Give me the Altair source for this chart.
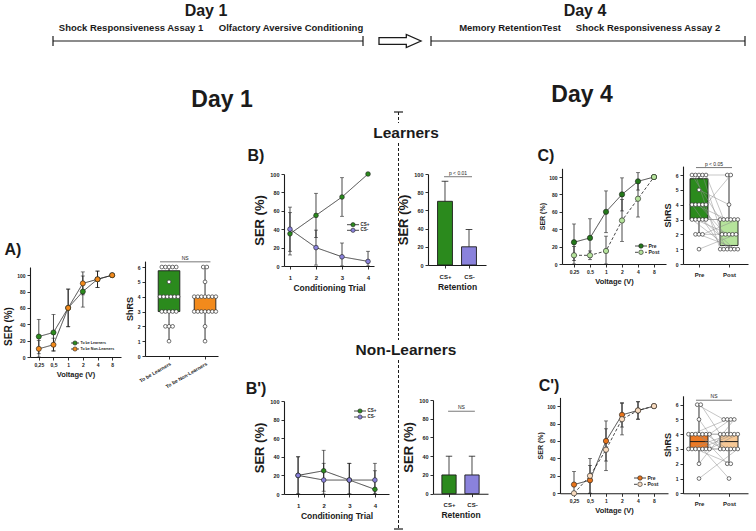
import json
import altair as alt
import pandas as pd

W, H = 756, 531
SANS = "Liberation Sans, Arial, Helvetica, sans-serif"
NARROW = "Liberation Sans Narrow, Arial Narrow, Liberation Sans, Arial, sans-serif"
INK = "#1b1b1b"

# ---------------- data ----------------
volt_comma = ["0,25", "0,5", "1", "2", "4", "8"]
volt_dot = ["0.25", "0.5", "1", "2", "4", "8"]
trials = ["1", "2", "3", "4"]
cs_groups = ["CS+", "CS-"]
phase_groups = ["Pre", "Post"]
future_groups = ["To be Learners", "To be Non-Learners"]

# A) day-1 shock responsiveness (SER %, mean and error)
a_learn_ser = [25, 30, 60, 80, 95, 100]
a_learn_err = [21, 22, 23, 19, 10, 0]
a_non_ser = [10, 15, 60, 90, 95, 100]
a_non_err = [10, 8, 23, 14, 10, 0]
# A) ShRS score of each fly
a_learn_shrs = [6, 6, 6, 6, 6, 5, 4, 4, 4, 4, 4, 4, 3, 3, 3, 3, 3, 2, 2, 2, 1]
a_non_shrs = [6, 6, 5, 4, 4, 4, 4, 4, 4, 4, 3, 3, 3, 3, 3, 3, 3, 2, 1]
# box summaries: lower whisker, Q1, median, Q3, upper whisker
a_learn_box = [1, 3, 4, 5.75, 6]
a_non_box = [1, 3, 4, 4, 6]

# B) learners: acquisition and retention
b_csp = [35, 55, 75, 100]
b_csp_err = [23, 24, 21, 0]
b_csm = [40, 20, 10, 5]
b_csm_err = [24, 19, 15, 11]
b_ret = [70, 20]
b_ret_err = [22, 19]

# B') non-learners: acquisition and retention
bn_csp = [20, 25, 15, 5]
bn_csp_err = [20, 22, 18, 20]
bn_csm = [20, 15, 15, 15]
bn_csm_err = [20, 18, 18, 18]
bn_ret = [20, 20]
bn_ret_err = [20, 20]

# C) learners: shock responsiveness before / after
c_pre_ser = [25, 30, 60, 80, 95, 100]
c_pre_err = [21, 22, 24, 19, 10, 0]
c_post_ser = [10, 10, 15, 50, 75, 100]
c_post_err = [10, 5, 17, 24, 21, 0]
c_pre_shrs = [6, 6, 6, 6, 6, 5, 4, 4, 4, 4, 4, 3, 3, 3, 3, 3, 2, 2, 2, 1]
c_post_shrs = [3, 1, 6, 2, 3, 4, 1, 3, 2, 1, 6, 1, 2, 3, 1, 3, 2, 1, 3, 2]
c_pre_box = [2, 3, 4, 5.75, 6]
c_post_box = [1, 1.25, 2, 3, 6]

# C') non-learners: shock responsiveness before / after
cn_pre_ser = [10, 15, 60, 90, 95, 100]
cn_pre_err = [15, 17, 23, 14, 10, 0]
cn_post_ser = [0, 20, 50, 85, 95, 100]
cn_post_err = [0, 20, 24, 18, 10, 0]
cn_pre_shrs = [6, 6, 5, 4, 4, 4, 4, 4, 4, 4, 3, 3, 3, 3, 3, 3, 3, 2, 1]
cn_post_shrs = [5, 4, 3, 4, 5, 3, 2, 4, 3, 5, 4, 3, 2, 4, 1, 3, 4, 5, 3]
cn_pre_box = [2, 3, 3.5, 4, 6]
cn_post_box = [2, 3, 3.5, 4, 5]

# ---------------- colours ----------------
GREEN = "#2b8a1d"
ORANGE = "#f28a1c"
PURPLE = "#8a82dc"
DARK_GREEN = "#23781a"
LIGHT_GREEN = "#b5e39b"
DEEP_ORANGE = "#e8741a"
PEACH = "#f9dcc0"
BOX_ORANGE = "#ec7a26"
BOX_PEACH = "#f6c896"

ONE = pd.DataFrame({"_": [0]})


def axis(orient, at, **kw):
    offset = -(H - at) if orient == "bottom" else -at
    base = dict(orient=orient, offset=offset, grid=False, domainColor=INK, domainWidth=1.1,
                tickColor=INK, tickWidth=0.9, tickSize=3, labelFont=SANS, labelColor=INK,
                labelFontWeight="bold", titleFont=SANS, titleColor=INK, titleFontWeight="bold",
                labelPadding=2, titlePadding=3, labelOverlap=False)
    if orient == "bottom":
        base["labelAngle"] = 0
    base.update(kw)
    return alt.Axis(**base)


def key(names, fills, dashes, x_dot, rows, size, msize, half=6):
    """Small in-plot key: a line stub, a marker and the series name per row."""
    df = pd.DataFrame({"series": names})
    Y = alt.Y("series:N", scale=alt.Scale(type="point", domain=names, range=rows, padding=0),
              axis=None)
    stub = alt.Chart(df).mark_rule(color=INK, strokeWidth=0.8).encode(
        x=alt.value(x_dot - half), x2=alt.value(x_dot + half), y=Y,
        strokeDash=alt.StrokeDash("series:N", scale=alt.Scale(domain=names, range=dashes),
                                  legend=None))
    dot = alt.Chart(df).mark_point(filled=True, size=msize, stroke=INK, strokeWidth=0.6,
                                   opacity=1).encode(
        x=alt.value(x_dot), y=Y,
        color=alt.Color("series:N", scale=alt.Scale(domain=names, range=fills), legend=None))
    lab = alt.Chart(df).mark_text(align="left", baseline="middle", font=SANS, fontSize=size,
                                  fontWeight="bold", color=INK).encode(
        x=alt.value(x_dot + half + 1.5), y=Y, text="series:N")
    return alt.layer(stub, dot, lab).resolve_scale(y="shared")


def line_panel(cats, names, means, errs, fills, dashes, xr, pad, yr, ydom, xax, yax, msize):
    rows = [dict(cat=c, series=n, val=v, err=e)
            for n, m, es in zip(names, means, errs)
            for c, v, e in zip(cats, m, es)]
    base = alt.Chart(pd.DataFrame(rows)).transform_calculate(
        lo="max(0, datum.val - datum.err)", hi="datum.val + datum.err")
    xs = alt.Scale(type="point", domain=cats, range=xr, padding=pad)
    ys = alt.Scale(domain=ydom, range=yr, nice=False, zero=False)
    X = alt.X("cat:N", scale=xs, axis=xax, sort=cats)

    def Y(f):
        return alt.Y(f"{f}:Q", scale=ys, axis=yax)

    with_err = base.transform_filter("datum.err > 0")
    bars = with_err.mark_rule(color=INK, strokeWidth=0.8).encode(x=X, y=Y("lo"), y2="hi:Q")
    caps = with_err.transform_fold(["lo", "hi"], as_=["end", "yv"]).mark_tick(
        color=INK, thickness=0.8, size=4).encode(x=X, y=Y("yv"))
    line = base.mark_line(color=INK, strokeWidth=0.8).encode(
        x=X, y=Y("val"),
        strokeDash=alt.StrokeDash("series:N", scale=alt.Scale(domain=names, range=dashes), legend=None))
    pts = base.mark_point(filled=True, size=msize, stroke=INK, strokeWidth=0.6, opacity=1).encode(
        x=X, y=Y("val"),
        color=alt.Color("series:N", scale=alt.Scale(domain=names, range=fills), legend=None))
    return alt.layer(bars, caps, line, pts)


def sig_layers(sig, X, Y):
    sdf = pd.DataFrame([dict(a=sig["a"], b=sig["b"], y=sig["y"], mid=(sig["a"] + sig["b"]) / 2,
                             text=sig["text"])])
    rule = alt.Chart(sdf).mark_rule(color="#555", strokeWidth=0.8).encode(x=X("a"), x2="b:Q", y=Y("y"))
    txt = alt.Chart(sdf).mark_text(font=SANS, fontSize=5, dy=-4, color=INK).encode(
        x=X("mid"), y=Y("y"), text="text:N")
    return [rule, txt]


def box_panel(groups, samples, summaries, fills, xdom, xr, ydom, yr, xax, yax, hw, step, paired, sig):
    pts = pd.DataFrame([dict(subject=i, pos=g, value=v)
                        for g, vals in enumerate(samples) for i, v in enumerate(vals)])
    stats = pd.DataFrame([dict(pos=g, grp=groups[g], lo=s[0], q1=s[1], med=s[2], q3=s[3], hi=s[4])
                          for g, s in enumerate(summaries)])
    xs = alt.Scale(domain=xdom, range=xr, nice=False, zero=False)
    ys = alt.Scale(domain=ydom, range=yr, nice=False, zero=False)

    def X(f):
        return alt.X(f"{f}:Q", scale=xs, axis=xax)

    def Y(f):
        return alt.Y(f"{f}:Q", scale=ys, axis=yax)

    sb = alt.Chart(stats).transform_calculate(x0=f"datum.pos - {hw}", x1=f"datum.pos + {hw}")
    whisk = sb.mark_rule(color=INK, strokeWidth=0.9).encode(x=X("pos"), y=Y("lo"), y2="hi:Q")
    box = sb.mark_rect(stroke=INK, strokeWidth=0.9).encode(
        x=X("x0"), x2="x1:Q", y=Y("q1"), y2="q3:Q",
        color=alt.Color("grp:N", scale=alt.Scale(domain=groups, range=fills), legend=None))
    med = sb.mark_rule(color=INK, strokeWidth=1).encode(x=X("x0"), x2="x1:Q", y=Y("med"))
    pb = (alt.Chart(pts)
          .transform_window(k="row_number()", groupby=["pos", "value"], sort=[alt.SortField("subject")])
          .transform_joinaggregate(n="count()", groupby=["pos", "value"])
          .transform_calculate(xd=f"datum.pos + (datum.k - (datum.n + 1) / 2) * {step}"))
    layers = [whisk, box, med]
    if paired:
        layers.append(pb.mark_line(color="#8c8c8c", strokeWidth=0.5).encode(
            x=X("xd"), y=Y("value"), detail="subject:N", order="pos:Q"))
    layers.append(pb.mark_point(filled=True, fill="white", stroke="#333", strokeWidth=0.7,
                                size=14, opacity=1).encode(x=X("xd"), y=Y("value")))
    layers += sig_layers(sig, X, Y)
    return alt.layer(*layers)


def bar_panel(groups, means, errs, fills, xdom, xr, ydom, yr, xax, yax, hw, sig):
    df = pd.DataFrame([dict(pos=i, grp=g, val=m, err=e)
                       for i, (g, m, e) in enumerate(zip(groups, means, errs))])
    xs = alt.Scale(domain=xdom, range=xr, nice=False, zero=False)
    ys = alt.Scale(domain=ydom, range=yr, nice=False, zero=False)

    def X(f):
        return alt.X(f"{f}:Q", scale=xs, axis=xax)

    def Y(f):
        return alt.Y(f"{f}:Q", scale=ys, axis=yax)

    base = alt.Chart(df).transform_calculate(
        x0=f"datum.pos - {hw}", x1=f"datum.pos + {hw}",
        c0=f"datum.pos - {hw * 0.45}", c1=f"datum.pos + {hw * 0.45}",
        hi="datum.val + datum.err", floor="0")
    err = base.mark_rule(color=INK, strokeWidth=0.8).encode(x=X("pos"), y=Y("val"), y2="hi:Q")
    cap = base.mark_rule(color=INK, strokeWidth=0.8).encode(x=X("c0"), x2="c1:Q", y=Y("hi"))
    bar = base.mark_rect(stroke=INK, strokeWidth=0.9).encode(
        x=X("x0"), x2="x1:Q", y=Y("floor"), y2="val:Q",
        color=alt.Color("grp:N", scale=alt.Scale(domain=groups, range=fills), legend=None))
    return alt.layer(err, cap, bar, *sig_layers(sig, X, Y))


def cat_labels(groups):
    return f"{json.dumps(groups)}[datum.value]"


def text(t, x, y, size, font=NARROW, weight="bold"):
    return alt.Chart(ONE).mark_text(text=t, font=font, fontSize=size, fontWeight=weight,
                                    align="center", baseline="middle", color=INK).encode(
        x=alt.value(x), y=alt.value(y))


def segment(x1, y1, x2, y2, width=1.2, dash=None):
    kw = dict(color=INK, strokeWidth=width)
    if dash:
        kw["strokeDash"] = dash
    return alt.Chart(ONE).mark_rule(**kw).encode(
        x=alt.value(x1), x2=alt.value(x2), y=alt.value(y1), y2=alt.value(y2))


SOLID, DASHED = [1, 0], [3, 2]
SER_TICKS = [0, 20, 40, 60, 80, 100]

# ---------------- panels ----------------
panel_a = line_panel(
    volt_comma, future_groups, [a_learn_ser, a_non_ser], [a_learn_err, a_non_err],
    [GREEN, ORANGE], [SOLID, SOLID], [30, 121], 0.6, [357, 267], [0, 110],
    axis("bottom", 357, title="Voltage (V)", labelFontSize=5, titleFontSize=7.5),
    axis("left", 30, title="SER (%)", values=SER_TICKS, labelFontSize=5,
         titleFontSize=10, titleY=326), 26)
key_a = key(future_groups, [GREEN, ORANGE], [SOLID, SOLID], 75, [343, 349], 3.6, 18, half=4)

panel_a_box = box_panel(
    future_groups, [a_learn_shrs, a_non_shrs], [a_learn_box, a_non_box], [GREEN, ORANGE],
    [-0.667, 1.36], [145, 218], [0, 6.4], [356, 261.1],
    axis("bottom", 356, title=None, values=[0, 1], labelExpr=cat_labels(future_groups),
         labelFontSize=5, labelAngle=330, labelAlign="right", labelBaseline="top"),
    axis("left", 145, title="ShRS", values=list(range(7)), labelFontSize=5, titleFontSize=9),
    0.3, 0.1, False, dict(a=-0.25, b=1.15, y=6.35, text="NS"))

panel_b = line_panel(
    trials, cs_groups, [b_csp, b_csm], [b_csp_err, b_csm_err], [GREEN, PURPLE], [SOLID, SOLID],
    [284, 374], 0.23, [266, 174], [0, 100],
    axis("bottom", 266, title="Conditioning Trial", labelFontSize=6, titleFontSize=8.5,
         labelPadding=5),
    axis("left", 284, title="SER (%)", values=SER_TICKS, labelFontSize=5.5, titleFontSize=13), 22)
key_b = key(cs_groups, [GREEN, PURPLE], [SOLID, SOLID], 353, [224.7, 230.3], 4.5, 18)

panel_b_bar = bar_panel(
    cs_groups, b_ret, b_ret_err, [GREEN, PURPLE], [-0.708, 1.708], [428, 486], [0, 100], [265, 174],
    axis("bottom", 265, title="Retention", values=[0, 1], labelExpr=cat_labels(cs_groups),
         labelFontSize=6, titleFontSize=8.5, labelPadding=5),
    axis("left", 428, title="SER (%)", values=SER_TICKS, labelFontSize=5.5, titleFontSize=13),
    0.31, dict(a=-0.04, b=1.125, y=97, text="p < 0.01"))

panel_bn = line_panel(
    trials, cs_groups, [bn_csp, bn_csm], [bn_csp_err, bn_csm_err], [GREEN, PURPLE], [SOLID, SOLID],
    [284, 389], 0.55, [494, 401], [0, 100],
    axis("bottom", 494, title="Conditioning Trial", labelFontSize=6, titleFontSize=8.5,
         labelPadding=5),
    axis("left", 284, title="SER (%)", values=SER_TICKS, labelFontSize=5.5, titleFontSize=13), 22)
key_bn = key(cs_groups, [GREEN, PURPLE], [SOLID, SOLID], 360, [411, 417], 4.5, 18)

panel_bn_bar = bar_panel(
    cs_groups, bn_ret, bn_ret_err, [GREEN, PURPLE], [-0.696, 1.696], [433, 488], [0, 100],
    [493.7, 400],
    axis("bottom", 493.7, title="Retention", values=[0, 1], labelExpr=cat_labels(cs_groups),
         labelFontSize=6, titleFontSize=8.5, labelPadding=5),
    axis("left", 433, title="SER (%)", values=SER_TICKS, labelFontSize=5.5, titleFontSize=13),
    0.31, dict(a=-0.04, b=1.125, y=88, text="NS"))

panel_c = line_panel(
    volt_dot, phase_groups, [c_pre_ser, c_post_ser], [c_pre_err, c_post_err],
    [DARK_GREEN, LIGHT_GREEN], [SOLID, DASHED], [562, 666], 0.75, [264, 168.3], [0, 110],
    axis("bottom", 264, title="Voltage (V)", labelFontSize=5, titleFontSize=7.5),
    axis("left", 562, title="SER (%)", values=SER_TICKS, labelFontSize=5, titleFontSize=7), 28)
key_c = key(phase_groups, [DARK_GREEN, LIGHT_GREEN], [SOLID, DASHED], 641, [246, 252.3], 5, 20)

panel_c_box = box_panel(
    phase_groups, [c_pre_shrs, c_post_shrs], [c_pre_box, c_post_box], [GREEN, LIGHT_GREEN],
    [-0.533, 1.633], [683, 748], [0, 6.6], [264, 166.1],
    axis("bottom", 264, title=None, values=[0, 1], labelExpr=cat_labels(phase_groups),
         labelFontSize=6, labelPadding=4),
    axis("left", 683, title="ShRS", values=list(range(7)), labelFontSize=5, titleFontSize=9),
    0.3, 0.117, True, dict(a=-0.1, b=1.1, y=6.5, text="p < 0.05"))

panel_cn = line_panel(
    volt_comma, phase_groups, [cn_pre_ser, cn_post_ser], [cn_pre_err, cn_post_err],
    [DEEP_ORANGE, PEACH], [SOLID, DASHED], [560, 668], 0.875, [493.3, 397.4], [0, 110],
    axis("bottom", 493.3, title="Voltage (V)", labelFontSize=5, titleFontSize=7.5),
    axis("left", 560, title="SER (%)", values=SER_TICKS, labelFontSize=5, titleFontSize=7), 28)
key_cn = key(phase_groups, [DEEP_ORANGE, PEACH], [SOLID, DASHED], 640, [478, 484.3], 5, 20)

panel_cn_box = box_panel(
    phase_groups, [cn_pre_shrs, cn_post_shrs], [cn_pre_box, cn_post_box], [BOX_ORANGE, BOX_PEACH],
    [-0.533, 1.633], [683, 748], [0, 6.6], [493.3, 395.8],
    axis("bottom", 493.3, title=None, values=[0, 1], labelExpr=cat_labels(phase_groups),
         labelFontSize=6, labelPadding=4),
    axis("left", 683, title="ShRS", values=list(range(7)), labelFontSize=5, titleFontSize=9),
    0.3, 0.117, True, dict(a=-0.1, b=1.1, y=6.3, text="NS"))

# ---------------- timeline, headings and separators ----------------
ARROW = "M-1,-0.16L0.3,-0.16L0.3,-0.31L1,0L0.3,0.31L0.3,0.16L-1,0.16Z"
decor = [
    segment(53, 41, 363, 41), segment(53, 36, 53, 46), segment(363, 36, 363, 46),
    segment(431, 41, 745, 41), segment(431, 36, 431, 46), segment(745, 36, 745, 46),
    alt.Chart(ONE).mark_point(shape=ARROW, size=1764, filled=False, stroke=INK, strokeWidth=1.3,
                              opacity=1).encode(x=alt.value(400), y=alt.value(41)),
    text("Day 1", 206, 11, 16), text("Day 4", 585, 11, 16),
    text("Shock Responsiveness Assay 1", 131, 28, 9.5),
    text("Olfactory Aversive Conditioning", 291, 28, 9.5),
    text("Memory RetentionTest", 510, 28, 9.5),
    text("Shock Responsiveness Assay 2", 648, 28, 9.5),
    text("Day 1", 222, 100, 23), text("Day 4", 582, 95, 23),
    text("Learners", 406, 133, 15.5), text("Non-Learners", 406, 350, 15.5),
    text("A)", 13, 250, 16, font=SANS), text("B)", 256, 156, 16, font=SANS),
    text("C)", 546, 156, 16, font=SANS), text("B')", 256, 389, 16, font=SANS),
    text("C')", 549, 386, 16, font=SANS),
    segment(394, 112, 403, 112, width=1.2), segment(398.5, 112, 398.5, 123, width=1, dash=[3, 2]),
    segment(398.5, 143, 398.5, 340, width=1, dash=[3, 2]),
    segment(398.5, 360, 398.5, 529, width=1, dash=[3, 2]),
    segment(394, 529, 403, 529, width=1.2),
]

chart = alt.layer(
    panel_a, key_a, panel_a_box, panel_b, key_b, panel_b_bar, panel_bn, key_bn, panel_bn_bar,
    panel_c, key_c, panel_c_box, panel_cn, key_cn, panel_cn_box, *decor
).resolve_scale(
    x="independent", y="independent", color="independent", strokeDash="independent"
).properties(
    width=W, height=H, autosize=alt.AutoSizeParams(type="none"), padding=0,
    background="white"
).configure_view(stroke=None)

chart.save("out.html", embed_options={"renderer": "svg", "actions": False})
